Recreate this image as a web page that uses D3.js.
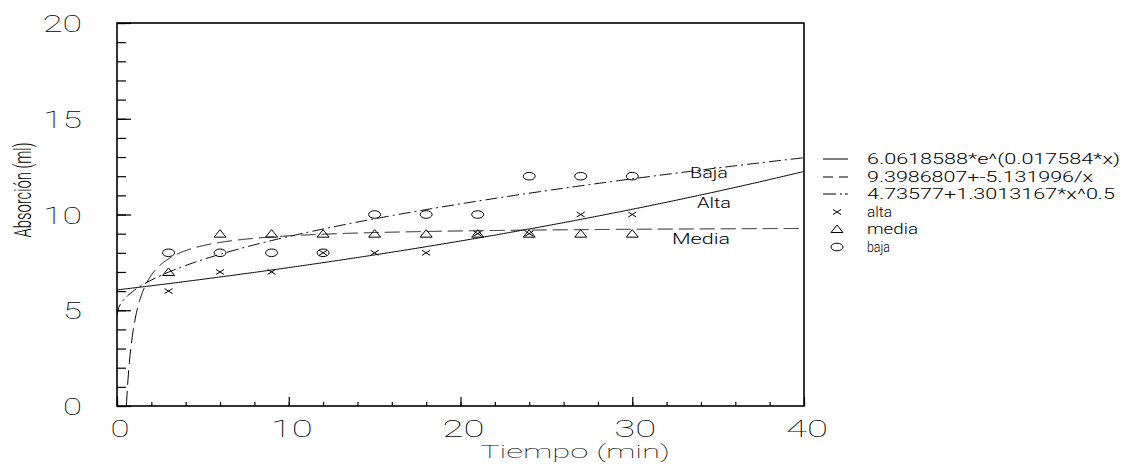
<!DOCTYPE html>
<html>
<head>
<meta charset="utf-8">
<script src="https://cdn.jsdelivr.net/npm/d3@7"></script>
<style>
  html, body { margin: 0; padding: 0; background: #fff; }
  svg { display: block; }
  text { font-family: Roboto, "DejaVu Sans", sans-serif; fill: #000; font-weight: 300; }
  text.big { font-weight: 100; }
</style>
</head>
<body>
<svg id="chart" width="1123" height="466"></svg>
<script>
// Measured absorption (ml) at each time (min)
const times = [3, 6, 9, 12, 15, 18, 21, 24, 27, 30];
const alta  = [6, 7, 7, 8, 8, 8, 9, 9, 10, 10];
const media = [7, 9, 9, 9, 9, 9, 9, 9, 9, 9];
const baja  = [8, 8, 8, 8, 10, 10, 10, 12, 12, 12];

// Fitted model coefficients (as printed in the legend)
const altaFit  = [6.0618588, 0.017584];          // a*e^(b*x)
const mediaFit = [9.3986807, -5.131996];         // a + b/x
const bajaFit  = [4.73577, 1.3013167, 0.5];      // a + b*x^c

const fitLabels = ["6.0618588*e^(0.017584*x)", "9.3986807+-5.131996/x", "4.73577+1.3013167*x^0.5"];
const pointLabels = ["alta", "media", "baja"];
const curveNames = ["Alta", "Media", "Baja"];

const xTicks = [0, 10, 20, 30, 40];
const yTicks = [0, 5, 10, 15, 20];

const svg = d3.select("#chart");
const x = d3.scaleLinear().domain([0, 40]).range([117, 804]);
const y = d3.scaleLinear().domain([0, 20]).range([406, 23]);

// helper: text stretched to a given width
function label(g, str, px, py, size, width, anchor, cls) {
  const t = g.append("text")
    .attr("x", px).attr("y", py)
    .attr("font-size", size)
    .attr("text-anchor", anchor || "start")
    .text(str);
  if (cls) t.attr("class", cls);
  if (width) t.attr("textLength", width).attr("lengthAdjust", "spacingAndGlyphs");
  return t;
}

// clip for the curves
svg.append("defs").append("clipPath").attr("id", "plot")
  .append("rect").attr("x", x(0)).attr("y", y(20))
  .attr("width", x(40) - x(0)).attr("height", y(0) - y(20));

// axes: inward ticks on left and bottom
const leftMinor = d3.axisLeft(y).tickValues(d3.range(0, 21, 1)).tickSize(-9).tickFormat("");
const leftMajor = d3.axisLeft(y).tickValues(yTicks).tickSize(-14).tickFormat("");
const botMinor = d3.axisBottom(x).tickValues(d3.range(0, 41, 2)).tickSize(-4).tickFormat("");
const botMajor = d3.axisBottom(x).tickValues(xTicks).tickSize(-9).tickFormat("");
[leftMinor, leftMajor].forEach(a => {
  const g = svg.append("g").attr("transform", `translate(${x(0)},0)`).call(a);
  g.select(".domain").remove();
  g.selectAll("line").attr("stroke", "#000").attr("stroke-width", 1.2);
});
[botMinor, botMajor].forEach(a => {
  const g = svg.append("g").attr("transform", `translate(0,${y(0)})`).call(a);
  g.select(".domain").remove();
  g.selectAll("line").attr("stroke", "#000").attr("stroke-width", 1.2);
});
svg.append("rect")
  .attr("x", x(0)).attr("y", y(20))
  .attr("width", x(40) - x(0)).attr("height", y(0) - y(20))
  .attr("fill", "none").attr("stroke", "#000").attr("stroke-width", 1.6);

// tick labels
const tl = svg.append("g");
yTicks.forEach(v => {
  const s = String(v);
  label(tl, s, 82, y(v) + 9, 24, s.length === 1 ? 19 : 39, "end", "big");
});
xTicks.forEach(v => {
  const s = String(v);
  label(tl, s, x(v) + 3, 437, 24, s.length === 1 ? 19 : 42, "middle", "big");
});

// axis titles
label(svg, "Tiempo (min)", 575, 458, 18, 190, "middle", "big");
svg.append("text")
  .attr("transform", "translate(31,190) rotate(-90)")
  .attr("text-anchor", "middle")
  .attr("font-size", 23)
  .attr("textLength", 95).attr("lengthAdjust", "spacingAndGlyphs")
  .text("Absorción (ml)");

// fitted curves
const line = d3.line().x(d => x(d[0])).y(d => y(d[1]));
const fAlta  = t => altaFit[0] * Math.exp(altaFit[1] * t);
const fMedia = t => mediaFit[0] + mediaFit[1] / t;
const fBaja  = t => bajaFit[0] + bajaFit[1] * Math.pow(t, bajaFit[2]);
const xs = d3.range(0, 40.0001, 0.1);
const mediaStart = -mediaFit[1] / mediaFit[0];
const curves = [
  { pts: xs.map(t => [t, fAlta(t)]), dash: null },
  { pts: [[mediaStart, 0]].concat(d3.range(0.56, 40.0001, 0.02).map(t => [t, fMedia(t)])), dash: "15,6" },
  { pts: xs.map(t => [t, fBaja(t)]), dash: "12,4,2,4" }
];
const cg = svg.append("g").attr("clip-path", "url(#plot)");
curves.forEach(c => {
  cg.append("path").attr("d", line(c.pts))
    .attr("fill", "none").attr("stroke", "#000").attr("stroke-width", 1)
    .attr("stroke-dasharray", c.dash);
});

// marker shapes (wide plotter symbols)
function drawMarker(g, kind, cx, cy) {
  if (kind === 0) {
    g.append("path").attr("d", `M${cx-4},${cy-2.5}L${cx+4},${cy+2.5}M${cx-4},${cy+2.5}L${cx+4},${cy-2.5}`)
      .attr("stroke", "#000").attr("stroke-width", 1).attr("fill", "none");
  } else if (kind === 1) {
    g.append("path").attr("d", `M${cx-6},${cy+3.5}L${cx},${cy-4}L${cx+6},${cy+3.5}Z`)
      .attr("stroke", "#000").attr("stroke-width", 1).attr("fill", "none");
  } else {
    g.append("ellipse").attr("cx", cx).attr("cy", cy).attr("rx", 6).attr("ry", 3.8)
      .attr("stroke", "#000").attr("stroke-width", 1).attr("fill", "none");
  }
}
const mg = svg.append("g");
[alta, media, baja].forEach((series, k) => {
  series.forEach((v, i) => drawMarker(mg, k, x(times[i]), y(v)));
});

// curve names near the right end
const nameG = svg.append("g");
label(nameG, curveNames[2], 690, 178, 14, 38, "start");
label(nameG, curveNames[0], 697, 208, 14, 34, "start");
label(nameG, curveNames[1], 672, 244, 14, 58, "start");

// legend
const lg = svg.append("g");
const legY = [159, 177, 194, 212, 229, 247];
const legW = [253, 226, 248, 25, 51, 23];
const dashes = [null, "10,6", "13,4,2,3"];
fitLabels.forEach((s, i) => {
  lg.append("line").attr("x1", 823).attr("x2", 848).attr("y1", legY[i]).attr("y2", legY[i])
    .attr("stroke", "#000").attr("stroke-width", 1).attr("stroke-dasharray", dashes[i]);
  label(lg, s, 867, legY[i] + 5, 14, legW[i], "start");
});
pointLabels.forEach((s, k) => {
  drawMarker(lg, k, 837, legY[3 + k]);
  label(lg, s, 867, legY[3 + k] + 5, 14, legW[3 + k], "start");
});
</script>
</body>
</html>
